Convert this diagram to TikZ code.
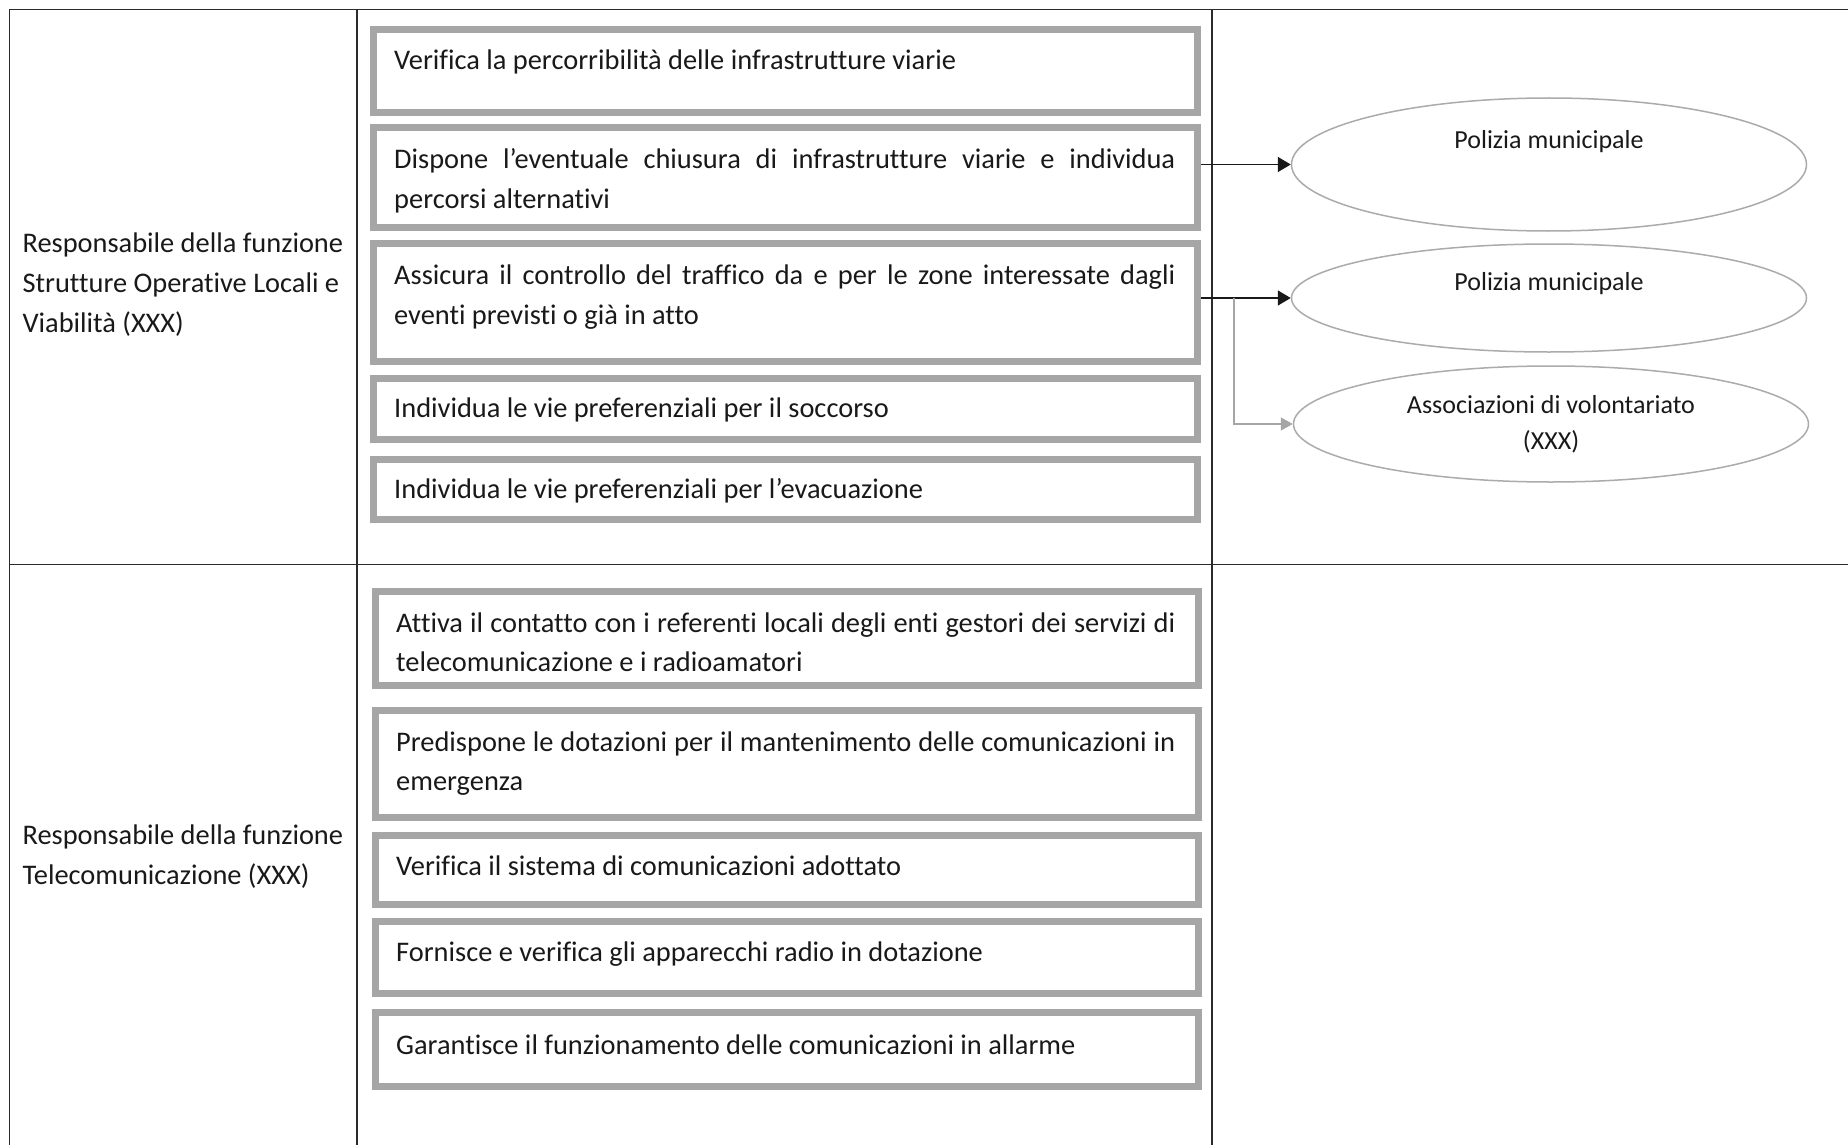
\documentclass[tikz,border=0pt]{standalone}
\usepackage{fontspec}
\setmainfont{Carlito}[Ligatures=NoCommon]
\usetikzlibrary{arrows.meta,shapes.geometric}
\definecolor{framegray}{HTML}{A6A6A6}
\definecolor{rulegray}{HTML}{2B2B2B}
\definecolor{ovalgray}{HTML}{ABABAB}
\begin{document}
\begin{tikzpicture}[x=1pt,y=-1pt,
  rule/.style={draw=rulegray,line width=1.4pt},
  taskbox/.style={draw=framegray,line width=7pt,rectangle,inner sep=0pt,anchor=north west},
  oval/.style={draw=ovalgray,line width=1.5pt,ellipse,inner sep=0pt},
  txt/.style={anchor=base west,inner sep=0pt,font=\fontsize{28.4}{40}\selectfont,text=black!90},
  ctxt/.style={anchor=base,inner sep=0pt,font=\fontsize{26}{36}\selectfont,text=black!90},
  blackarrow/.style={draw=black!90,line width=1.6pt,-{Triangle[length=13pt,width=15pt]}},
  grayarrow/.style={draw=framegray,line width=1.5pt,-{Triangle[length=12pt,width=13pt]}}
]
\useasboundingbox[fill=white] (0,0) rectangle (1848,1145);

% table rules
\draw[rule] (9.5,1145) -- (9.5,9.5) -- (1848,9.5);
\draw[rule] (9.5,564.5) -- (1848,564.5);
\draw[rule] (357,9.5) -- (357,1145);
\draw[rule] (1212,9.5) -- (1212,1145);

% left column
\node[txt] (r1a) at (22.4,252.6) {Responsabile della funzione};
\node[txt] (r1b) at (22.4,292.7) {Strutture Operative Locali e};
\node[txt] (r1c) at (22.4,332.8) {Viabilità (XXX)};
\node[txt] (r2a) at (22.4,844) {Responsabile della funzione};
\node[txt] (r2b) at (22.4,884) {Telecomunicazione (XXX)};

% task boxes, first function (placed by their outer corner)
\node[taskbox,minimum width=824pt,minimum height=83pt]  (b1) at (370,26) {};
\node[taskbox,minimum width=824pt,minimum height=100pt] (b2) at (370,124) {};
\node[taskbox,minimum width=824pt,minimum height=118pt] (b3) at (370,240) {};
\node[taskbox,minimum width=824pt,minimum height=61pt]  (b4) at (370,375) {};
\node[taskbox,minimum width=824pt,minimum height=60pt]  (b5) at (370,456) {};

\node[txt] (t1) at (394,70) {Verifica la percorribilità delle infrastrutture viarie};
\node[txt] (t2a) at (394,168) {\makebox[781pt][s]{Dispone l’eventuale chiusura di infrastrutture viarie e individua}};
\node[txt] (t2b) at (394,208) {percorsi alternativi};
\node[txt] (t3a) at (394,284) {\makebox[781pt][s]{Assicura il controllo del traffico da e per le zone interessate dagli}};
\node[txt] (t3b) at (394,324.5) {eventi previsti o già in atto};
\node[txt] (t4) at (394,417.6) {Individua le vie preferenziali per il soccorso};
\node[txt] (t5) at (394,498) {Individua le vie preferenziali per l’evacuazione};

% task boxes, second function
\node[taskbox,minimum width=823pt,minimum height=94pt]   (b6) at (372,588) {};
\node[taskbox,minimum width=823pt,minimum height=107pt]  (b7) at (372,707) {};
\node[taskbox,minimum width=823pt,minimum height=68.5pt] (b8) at (372,832) {};
\node[taskbox,minimum width=823pt,minimum height=72pt]   (b9) at (372,918) {};
\node[taskbox,minimum width=823pt,minimum height=74pt]   (b10) at (372,1009) {};

\node[txt] (t6a) at (396,632) {\makebox[779pt][s]{Attiva il contatto con i referenti locali degli enti gestori dei servizi di}};
\node[txt] (t6b) at (396,671) {telecomunicazione e i radioamatori};
\node[txt] (t7a) at (396,751) {\makebox[779pt][s]{Predispone le dotazioni per il mantenimento delle comunicazioni in}};
\node[txt] (t7b) at (396,790) {emergenza};
\node[txt] (t8) at (396,875) {Verifica il sistema di comunicazioni adottato};
\node[txt] (t9) at (396,961) {Fornisce e verifica gli apparecchi radio in dotazione};
\node[txt] (t10) at (396,1054) {Garantisce il funzionamento delle comunicazioni in allarme};

% actors
\node[oval,minimum width=515pt,minimum height=133pt] (e1) at (1549,164.5) {};
\node[oval,minimum width=515pt,minimum height=108pt] (e2) at (1549,298) {};
\node[oval,minimum width=515pt,minimum height=116pt] (e3) at (1551,424) {};
\node[ctxt] (l1) at (1549,148.5) {Polizia municipale};
\node[ctxt] (l2) at (1549,290) {Polizia municipale};
\node[ctxt] (l3a) at (1551,413.5) {Associazioni di volontariato};
\node[ctxt] (l3b) at (1551,449.5) {(XXX)};

% connectors
\draw[blackarrow] (b2.east |- e1.west) -- (e1.west);
\draw[blackarrow] (b3.east |- e2.west) -- (e2.west);
\coordinate (split) at (1234,298);
\draw[grayarrow] (split) -- (split |- e3.west) -- (e3.west);
\end{tikzpicture}
\end{document}
